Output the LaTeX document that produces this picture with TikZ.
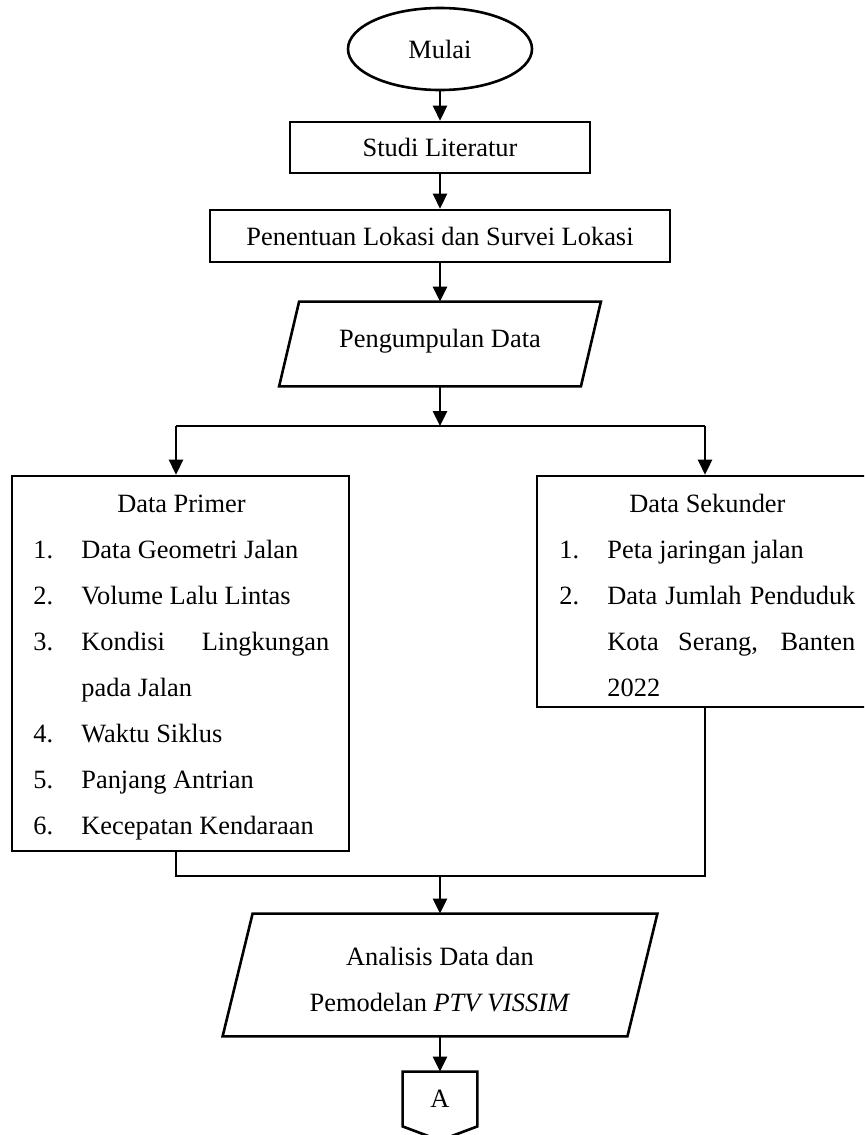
\documentclass[tikz,border=0pt]{standalone}
\usepackage{fontspec}
\setmainfont{Liberation Serif}
\usetikzlibrary{shapes.geometric,arrows.meta,calc}

% numbered entry with hanging indent
\newcommand\itm[2]{\par\hangindent=24pt\hangafter=1\noindent\makebox[24pt][l]{#1}#2\par}

\begin{document}
\begin{tikzpicture}[x=0.5pt,y=-0.5pt,
  every node/.style={font=\fontsize{13.2pt}{23pt}\selectfont},
  box/.style={draw,line width=1.3pt,rectangle,inner sep=0pt,align=center},
  frame/.style={rectangle,inner sep=0pt},
  outline/.style={draw,line width=1.3pt,line join=miter},
  arr/.style={line width=1.3pt,-{Triangle[width=7pt,length=7.5pt]}},
  link/.style={line width=0.65pt},
  listtext/.style={inner sep=0pt,anchor=north west,text width=148pt,align=justify,
    execute at begin node={\tolerance=10000\hyphenpenalty=10000\parskip=0pt}}
]
\useasboundingbox (0,0) rectangle (864,1135);
\clip (0,0) rectangle (864,1135);

% start
\node[draw,ellipse,line width=1.3pt,minimum width=92pt,minimum height=41pt,inner sep=0pt] (mulai) at (440,49) {Mulai};

% process steps
\node[box,minimum width=150pt,minimum height=25.5pt] (studi) at (440,147.5) {Studi Literatur};
\node[box,minimum width=230pt,minimum height=26pt] (lokasi) at (440,236) {Penentuan Lokasi dan Survei Lokasi};

% data collection (parallelogram)
\node[frame,minimum width=160.5pt,minimum height=42pt] (kumpul) at (440,344) {};
\draw[outline] ($(kumpul.north west)+(10pt,0)$) -- (kumpul.north east)
  -- ($(kumpul.south east)-(10pt,0)$) -- (kumpul.south west) -- cycle;
\node (kumpultxt) at (440,341) {Pengumpulan Data};

% primary data
\node[box,minimum width=168.5pt,minimum height=187.5pt] (primer) at (180.5,663.5) {};
\node[listtext] (primertxt) at (33,492) {%
  \centerline{\rule{0pt}{10pt}Data Primer}%
  \itm{1.}{Data Geometri Jalan}%
  \itm{2.}{Volume Lalu Lintas}%
  \itm{3.}{Kondisi Lingkungan pada Jalan}%
  \itm{4.}{Waktu Siklus}%
  \itm{5.}{Panjang Antrian}%
  \itm{6.}{Kecepatan Kendaraan}};

% secondary data
\node[box,minimum width=169pt,minimum height=115.5pt] (sekunder) at (706,591.5) {};
\node[listtext] (sekundertxt) at (559,492) {%
  \centerline{\rule{0pt}{10pt}Data Sekunder}%
  \itm{1.}{Peta jaringan jalan}%
  \itm{2.}{Data Jumlah Penduduk Kota Serang, Banten 2022}};

% analysis (parallelogram)
\node[frame,minimum width=217pt,minimum height=61pt] (analisis) at (440,975) {};
\draw[outline] ($(analisis.north west)+(15pt,0)$) -- (analisis.north east)
  -- ($(analisis.south east)-(15pt,0)$) -- (analisis.south west) -- cycle;
\node[align=center] (analisistxt) at (440,980) {Analisis Data dan\\Pemodelan \textit{PTV VISSIM}};

% off-page connector
\node[frame,minimum width=37pt,minimum height=27pt] (hub) at (440,1099) {A};
\draw[outline] (hub.north west) -- (hub.north east) -- (hub.south east)
  -- ($(hub.south)+(0,-7pt)$) -- (hub.south west) -- cycle;

% branch and merge points
\coordinate (split) at (440,426);
\coordinate (splitL) at (176,426);
\coordinate (splitR) at (705,426);
\coordinate (joinL) at (176,876);
\coordinate (joinR) at (705,876);
\coordinate (join) at (440,876);

% connectors
\draw[arr] (mulai.south) -- (studi.north);
\draw[arr] (studi.south) -- (lokasi.north);
\draw[arr] (lokasi.south) -- (kumpul.north);
\draw[arr] (kumpul.south) -- (split);
\draw[link] (splitL) -- (splitR);
\draw[arr] (splitL) -- (splitL |- primer.north);
\draw[arr] (splitR) -- (splitR |- sekunder.north);
\draw[link] (joinL |- primer.south) -- (joinL) -- (joinR) -- (joinR |- sekunder.south);
\draw[arr] (join) -- (analisis.north);
\draw[arr] (analisis.south) -- (hub.north);
\end{tikzpicture}
\end{document}
